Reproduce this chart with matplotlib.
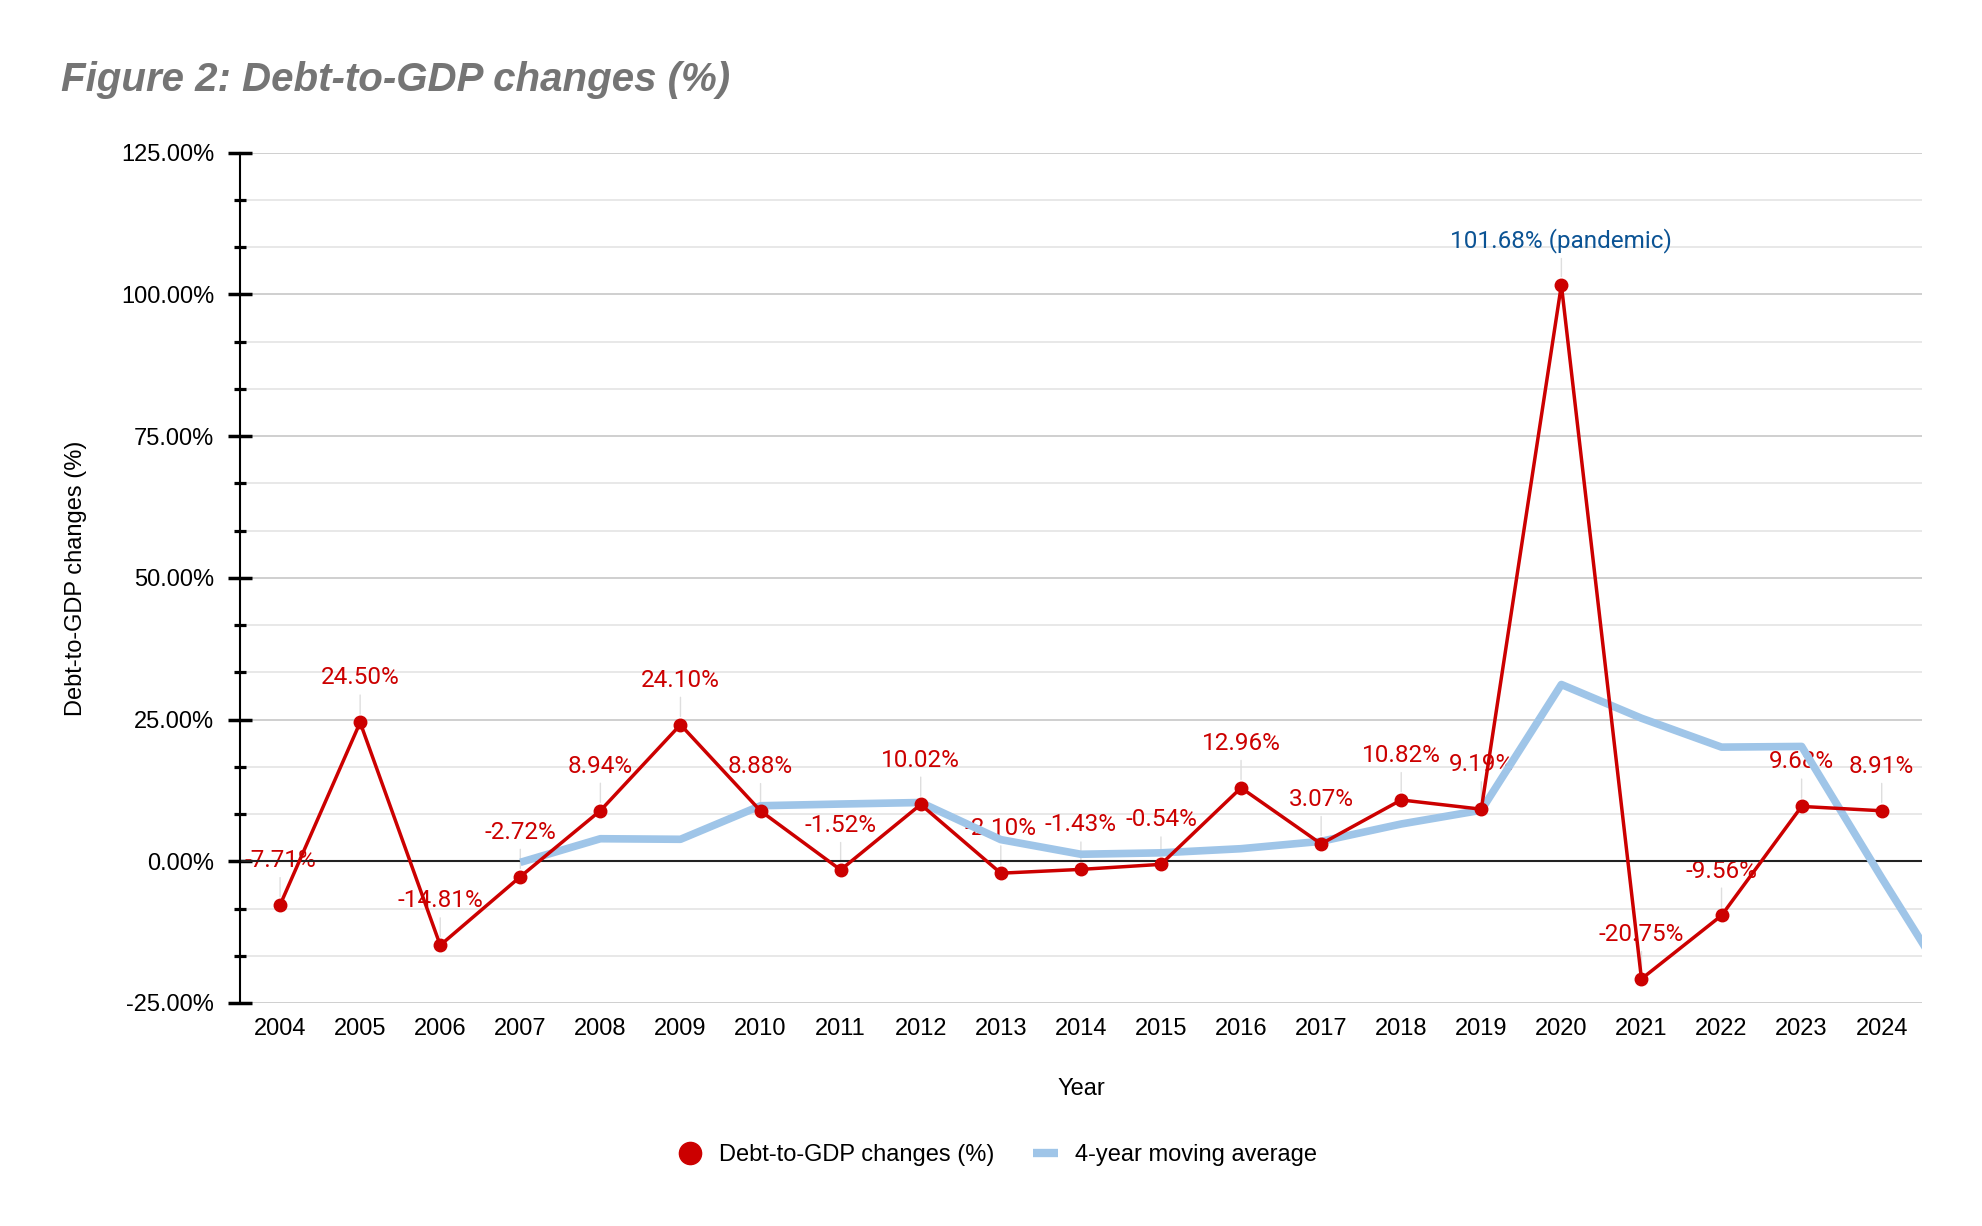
import numpy as np
import matplotlib.pyplot as plt
from matplotlib.lines import Line2D
from matplotlib.ticker import MultipleLocator, FuncFormatter

years = list(range(2004, 2025))
changes = [-7.71, 24.50, -14.81, -2.72, 8.94, 24.10, 8.88, -1.52, 10.02, -2.10, -1.43,
           -0.54, 12.96, 3.07, 10.82, 9.19, 101.68, -20.75, -9.56, 9.68, 8.91]
labels = ["-7.71%", "24.50%", "-14.81%", "-2.72%", "8.94%", "24.10%", "8.88%", "-1.52%",
          "10.02%", "-2.10%", "-1.43%", "-0.54%", "12.96%", "3.07%", "10.82%", "9.19%",
          "101.68% (pandemic)", "-20.75%", "-9.56%", "9.68%", "8.91%"]

# moving average, it runs on past the last year and gets clipped
ma_years = list(range(2007, 2026))
ma_values = [-0.19, 3.98, 3.88, 9.80, 10.10, 10.37, 3.82, 1.24, 1.49, 2.22, 3.52,
             6.58, 9.01, 31.19, 25.24, 20.14, 20.26, -2.93, -25.5]

red = "#cc0000"
blue = "#9fc5e8"

plt.rcParams["font.family"] = ["Liberation Sans", "DejaVu Sans"]

fig = plt.figure(figsize=(19.82, 12.26), dpi=100)
ax = fig.add_axes([0.1211, 0.1819, 0.8485, 0.6935])

ax.plot(ma_years, ma_values, color=blue, lw=5.5, solid_capstyle="butt", zorder=3)
ax.plot(years, changes, color=red, lw=2.5, marker="o", markersize=9, zorder=4)

for x, y, t in zip(years, changes, labels):
    c = "#0b5394" if "pandemic" in t else red
    ax.annotate(t, (x, y), xytext=(0, 32), textcoords="offset points",
                ha="center", va="center", fontsize=17.5, color=c, family=["Roboto", "DejaVu Sans"],
                arrowprops=dict(arrowstyle="-", color="#dedede", lw=1, shrinkA=2, shrinkB=6),
                zorder=2)

ax.set_xlim(2003.5, 2024.5)
ax.set_ylim(-25, 125)
ax.set_xticks(years)
ax.yaxis.set_major_locator(MultipleLocator(25))
ax.yaxis.set_minor_locator(MultipleLocator(25 / 3))
ax.yaxis.set_major_formatter(FuncFormatter(lambda v, p: f"{v:.2f}%"))

ax.grid(True, which="major", axis="y", color="#cccccc", lw=1.3, zorder=0)
ax.grid(True, which="minor", axis="y", color="#e6e6e6", lw=1.3, zorder=0)
ax.axhline(0, color="#222222", lw=1.5, zorder=2.5)

for s in ["top", "right", "bottom"]:
    ax.spines[s].set_visible(False)
ax.spines["left"].set_linewidth(1.5)

ax.tick_params(axis="y", which="major", direction="inout", length=17, width=2.5,
               pad=10, labelsize=17)
ax.tick_params(axis="y", which="minor", direction="inout", length=9, width=2.3)
ax.tick_params(axis="x", length=0, pad=11, labelsize=17)

ax.set_xlabel("Year", fontsize=17)
ax.set_ylabel("Debt-to-GDP changes (%)", fontsize=17)
ax.xaxis.set_label_coords(0.5, -0.088)
ax.yaxis.set_label_coords(-0.091, 0.5)

fig.text(0.0308, 0.9258, "Figure 2: Debt-to-GDP changes (%)", fontsize=29,
         fontweight="bold", fontstyle="italic", color="#757575", va="baseline")

handles = [Line2D([], [], color=red, marker="o", markersize=16, lw=0),
           Line2D([], [], color=blue, lw=6, solid_capstyle="butt")]
fig.legend(handles, ["Debt-to-GDP changes (%)", "4-year moving average"],
           loc="center", bbox_to_anchor=(0.503, 0.058), ncol=2, frameon=False,
           fontsize=17, handlelength=1.1, handletextpad=0.7, columnspacing=1.6)

fig.savefig("out.png", dpi=100)
